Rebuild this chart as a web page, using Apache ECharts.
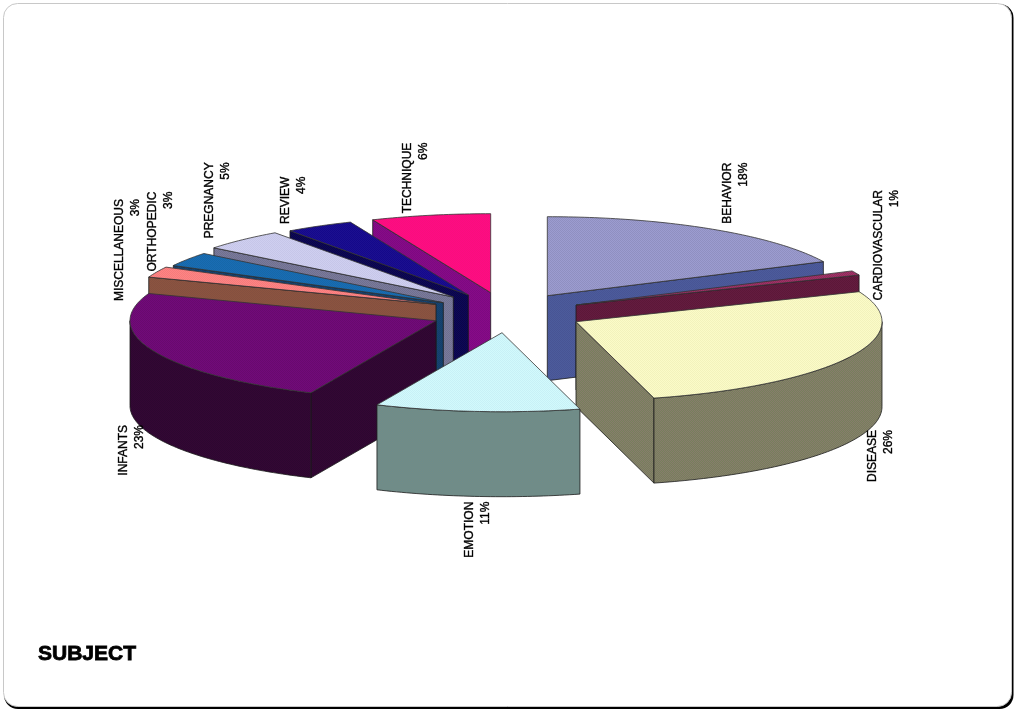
<!DOCTYPE html>
<html>
<head>
<meta charset="utf-8">
<style>html,body{margin:0;padding:0;background:#fff}#c{width:1016px;height:711px}</style>
<script src="https://cdn.jsdelivr.net/npm/echarts@6/dist/echarts.min.js"></script>
</head>
<body>
<div id="c"></div>
<script>
// ---- data ----
const categories = ['BEHAVIOR','CARDIOVASCULAR','DISEASE','EMOTION','INFANTS','MISCELLANEOUS','ORTHOPEDIC','PREGNANCY','REVIEW','TECHNIQUE'];
const shares = [17.9, 0.9, 27.1, 10.8, 23.9, 2.2, 2.9, 4.4, 3.6, 6.3];   // share of the projected circle
const percentLabels = ['18%','1%','26%','11%','23%','3%','3%','5%','4%','6%'];
const chartTitle = 'SUBJECT';

// ---- layout & style ----
const radiusX = 306, radiusY = 79, depth = 85;
const explodeX = [547.3, 576, 576, 502, 436, 436, 443.3, 453.3, 468.3, 490.7];
const explodeY = [295.7, 305, 321.7, 332.7, 320.7, 304.3, 302.7, 297, 295, 292.7];
const labelX = [736, 886.7, 881, 478, 131.3, 128, 160.7, 217.7, 294, 415.7];
const labelY = [162.7, 190, 430, 501.7, 425, 199, 191.7, 162.3, 176.7, 142.7];
const paintOrder = [9,8,7,6,5,4,0,1,2,3];
const topA  = ['#9c9cd0','#a03468','#fbfbc8','#d2fafc','#720a7a','#ff8484','#1a6cb4','#cfcff0','#1c1090','#ff0a84'];
const topB  = ['#8f8fc0','#902a5a','#f2f2bc','#c8f0f6','#680a6e','#f47c7c','#1668a8','#c6c6e8','#14088a','#f8107c'];
const wallA = ['#4c5c9c','#641c40','#76805c','#6c8c8c','#340634','#8c5440','#164472','#7a7a9c','#0e0858','#880a88'];
const wallB = ['#485494','#5c1838','#887c6c','#748c84','#2c0830','#845040','#143e68','#70708e','#0a0648','#7c0a80'];

function pattern(a, b) {
  const cv = document.createElement('canvas');
  cv.width = cv.height = 2;
  const g = cv.getContext('2d');
  g.fillStyle = a; g.fillRect(0,0,2,2);
  g.fillStyle = b; g.fillRect(0,0,1,1); g.fillRect(1,1,1,1);
  return {image: cv, repeat: 'repeat'};
}
const total = shares.reduce((s,v)=>s+v,0);
const startDeg = [], endDeg = [];
shares.reduce((acc,v,i)=>{ startDeg[i]=acc/total*360; endDeg[i]=(acc+v)/total*360; return acc+v; },0);

function rim(i, deg) {
  const t = deg*Math.PI/180;
  return [explodeX[i]+radiusX*Math.sin(t), explodeY[i]-radiusY*Math.cos(t)];
}
function arc(i, a, b) {
  const pts=[]; const n=Math.max(2,Math.ceil(Math.abs(b-a)));
  for(let k=0;k<=n;k++) pts.push(rim(i,a+(b-a)*k/n));
  return pts;
}
const drop = pts => pts.map(p=>[p[0],p[1]+depth]);

function renderSlice(params, api) {
  const i = api.value(0);
  const a = startDeg[i], b = endDeg[i];
  const apex = [explodeX[i], explodeY[i]];
  const conv = pts => pts.map(p=>api.coord(p));
  const wallStyle = {fill: pattern(wallA[i],wallB[i]), stroke:'#1a1a1a', lineWidth:0.8};
  const topStyle  = {fill: pattern(topA[i],topB[i]), stroke:'#333', lineWidth:0.8};
  const children = [];
  const wall = pts => children.push({type:'polygon', shape:{points:conv(pts)}, style:wallStyle});
  if (Math.sin(a*Math.PI/180) < 0) { const p=rim(i,a); wall([apex,p,[p[0],p[1]+depth],[apex[0],apex[1]+depth]]); }
  if (Math.sin(b*Math.PI/180) > 0) { const p=rim(i,b); wall([apex,p,[p[0],p[1]+depth],[apex[0],apex[1]+depth]]); }
  const fa=Math.max(a,90), fb=Math.min(b,270);
  if (fb>fa) { const e=arc(i,fa,fb); wall(e.concat(drop(e).reverse())); }
  children.push({type:'polygon', shape:{points:conv([apex].concat(arc(i,a,b)))}, style:topStyle});
  return {type:'group', children};
}
function renderLabel(params, api) {
  const i = api.value(0);
  const p = api.coord([labelX[i],labelY[i]]);
  return {type:'text', x:p[0], y:p[1], rotation:Math.PI/2,
    style:{text:categories[i]+'\n'+percentLabels[i], x:0, y:0, align:'right', verticalAlign:'middle',
      fill:'#000', font:'12px "Liberation Sans"', lineHeight:16, stroke:'#000', lineWidth:0.35}};
}
const chart = echarts.init(document.getElementById('c'), null, {renderer:'canvas'});
chart.setOption({
  animation:false,
  backgroundColor:'#fff',
  grid:{left:0,right:0,top:0,bottom:0},
  xAxis:{type:'value',min:0,max:1016,show:false},
  yAxis:{type:'value',min:0,max:711,inverse:true,show:false},
  title:{text:chartTitle,left:33,top:639,textStyle:{fontFamily:'Liberation Sans',fontSize:21,fontWeight:'bold',color:'#000',textBorderColor:'#000',textBorderWidth:0.8},z:10},
  graphic:[
    {type:'rect',z:-2,silent:true,shape:{x:4,y:4,width:1009.5,height:705,r:14},style:{fill:'#000'}},
    {type:'rect',z:-1,silent:true,shape:{x:3.5,y:3.5,width:1008,height:703,r:14},style:{fill:'#fff',stroke:'#c8c8c8',lineWidth:1}}
  ],
  series:[
    {type:'custom',coordinateSystem:'cartesian2d',silent:true,clip:false,z:2,renderItem:renderSlice,
     data:paintOrder.map(i=>[i,shares[i]]),encode:{x:0,y:1}},
    {type:'custom',coordinateSystem:'cartesian2d',silent:true,clip:false,z:5,renderItem:renderLabel,
     data:categories.map((c,i)=>[i,shares[i]]),encode:{x:0,y:1}}
  ]
});
</script>
</body>
</html>
